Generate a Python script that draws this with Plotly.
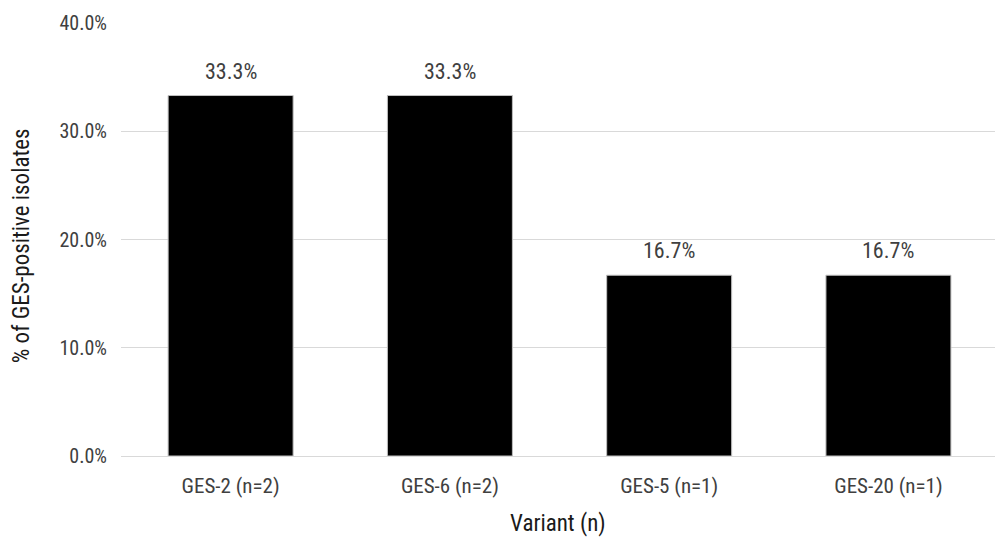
import plotly.graph_objects as go

# Share of GES-positive isolates by variant
variants = ["GES-2 (n=2)", "GES-6 (n=2)", "GES-5 (n=1)", "GES-20 (n=1)"]
percent = [33.3, 33.3, 16.7, 16.7]
y_ticks = [0, 10, 20, 30, 40]
y_tick_labels = ["0.0%", "10.0%", "20.0%", "30.0%", "40.0%"]

FONT = "Roboto Condensed, Arial Narrow, sans-serif"
TXT = "#404040"

fig = go.Figure(
    go.Bar(
        x=variants,
        y=percent,
        marker=dict(color="#000000", line=dict(color="#bfbfbf", width=1)),
        width=0.57,
        hoverinfo="skip",
    )
)

for v, p in zip(variants, percent):
    fig.add_annotation(
        x=v, y=p, text=f"{p:.1f}%", showarrow=False,
        yanchor="bottom", yshift=10,
        font=dict(family=FONT, size=22, color=TXT),
    )

fig.add_annotation(
    x=0.5, xref="paper", y=-0.155, yref="paper", yanchor="middle",
    text="Variant (n)", showarrow=False,
    font=dict(family=FONT, size=23, color="#1a1a1a"),
)
fig.add_annotation(
    x=-0.113, xref="paper", y=0.485, yref="paper", xanchor="center",
    text="% of GES-positive isolates", textangle=-90, showarrow=False,
    font=dict(family=FONT, size=23, color="#1a1a1a"),
)

fig.update_layout(
    width=995,
    height=541,
    margin=dict(l=121, r=0, t=23, b=85),
    plot_bgcolor="white",
    paper_bgcolor="white",
    showlegend=False,
    font=dict(family=FONT, size=20, color=TXT),
    xaxis=dict(
        range=[-0.5, 3.486],
        showgrid=False,
        showline=False,
        ticks="",
        ticklabelstandoff=15,
        tickfont=dict(family=FONT, size=21, color=TXT),
    ),
    yaxis=dict(
        range=[0, 40],
        tickvals=y_ticks,
        ticktext=y_tick_labels,
        showgrid=True,
        gridcolor="#d9d9d9",
        gridwidth=1,
        zeroline=True,
        zerolinecolor="#d9d9d9",
        zerolinewidth=1,
        showline=False,
        ticks="",
        ticklabelstandoff=13,
        tickfont=dict(family=FONT, size=20, color=TXT),
    ),
)

fig.write_html("out.html")
